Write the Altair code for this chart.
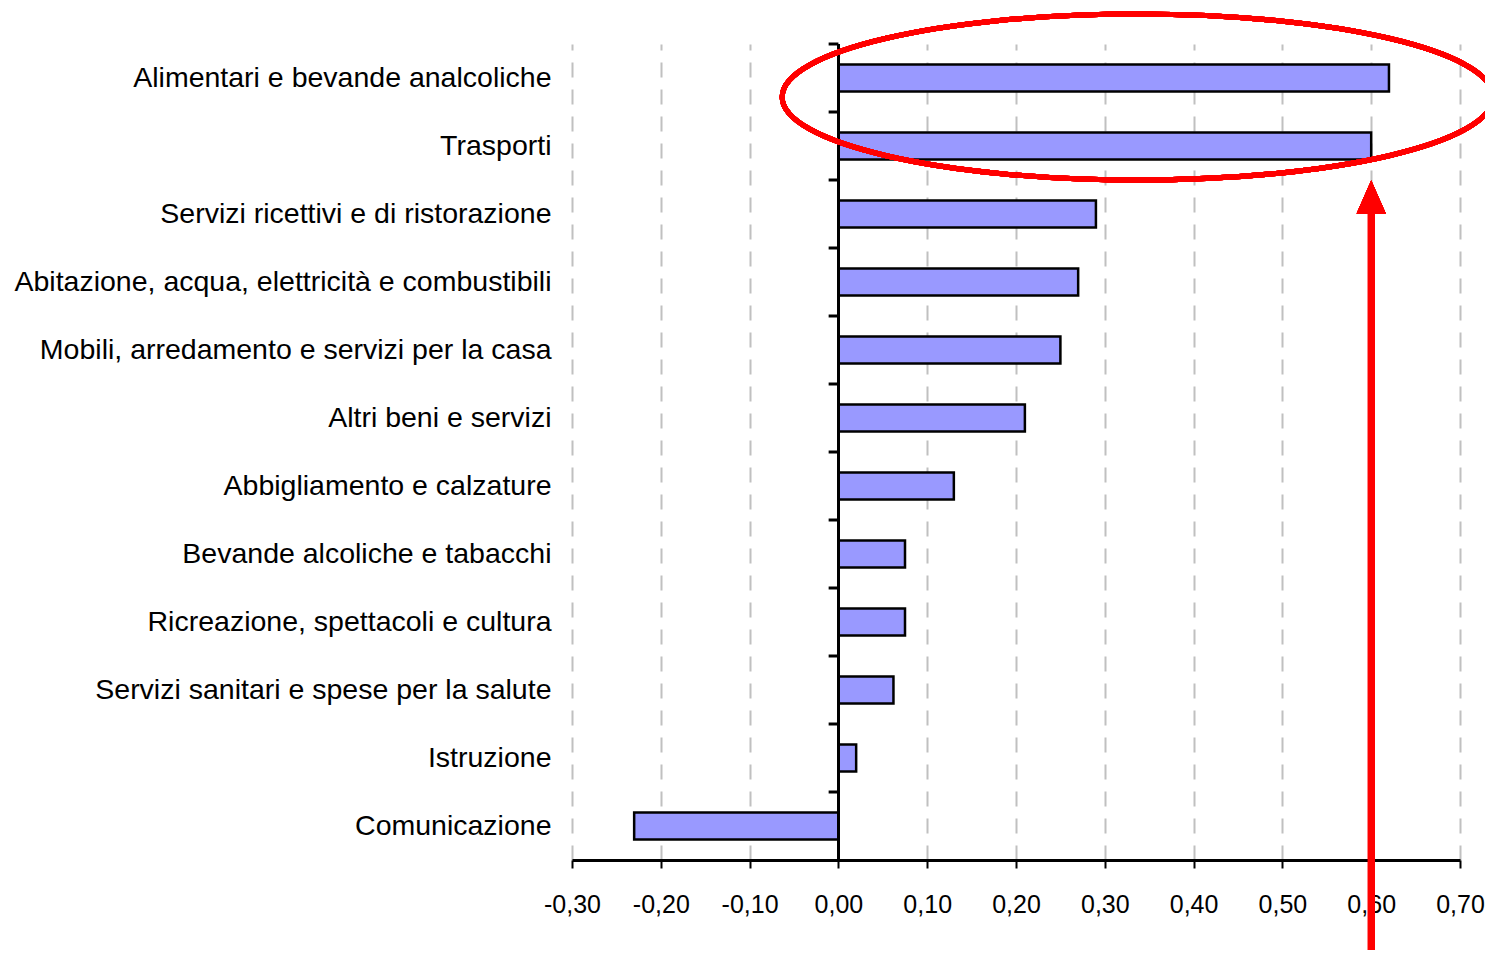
import altair as alt
import pandas as pd

categories = [
    "Alimentari e bevande analcoliche",
    "Trasporti",
    "Servizi ricettivi e di ristorazione",
    "Abitazione, acqua, elettricità e combustibili",
    "Mobili, arredamento e servizi per la casa",
    "Altri beni e servizi",
    "Abbigliamento e calzature",
    "Bevande alcoliche e tabacchi",
    "Ricreazione, spettacoli e cultura",
    "Servizi sanitari e spese per la salute",
    "Istruzione",
    "Comunicazione",
]
values = [0.62, 0.60, 0.29, 0.27, 0.25, 0.21, 0.13, 0.075, 0.075, 0.062, 0.02, -0.23]
x_ticks = [-0.30, -0.20, -0.10, 0.00, 0.10, 0.20, 0.30, 0.40, 0.50, 0.60, 0.70]

df = pd.DataFrame({"categoria": categories, "valore": values})

W, H = 888, 816
BAND = H / len(categories)
x_scale = alt.Scale(domain=[-0.30, 0.70], nice=False, zero=False)
y_sort = categories

y_axis = alt.Axis(
    title=None,
    domain=False,
    ticks=False,
    labelFont="Liberation Sans",
    labelFontSize=28.5,
    labelColor="black",
    labelPadding=21,
    labelLimit=1000,
)

base = alt.Chart(df)

bars = base.mark_bar(size=27, fill="#9999FF", stroke="black", strokeWidth=2.5).encode(
    x=alt.X(
        "valore:Q",
        scale=x_scale,
        axis=alt.Axis(
            values=x_ticks,
            title=None,
            labelExpr="(datum.value < 0 ? '-' : '') + replace(format(abs(datum.value), '.2f'), '.', ',')",
            labelFont="Liberation Sans",
            labelFontSize=25,
            labelColor="black",
            labelFlush=False,
            labelOverlap=False,
            labelPadding=24,
            domainColor="black",
            domainWidth=3,
            tickColor="black",
            tickWidth=2,
            tickSize=8,
            grid=True,
            gridColor="#C0C0C0",
            gridWidth=2,
            gridDash=[15, 12],
        ),
    ),
    y=alt.Y(
        "categoria:N",
        sort=y_sort,
        scale=alt.Scale(paddingInner=0, paddingOuter=0),
        axis=y_axis,
    ),
)

zero_line = base.mark_rule(color="black", strokeWidth=2.5).encode(
    x=alt.datum(0, scale=x_scale)
)

zero_ticks = base.mark_rule(color="black", strokeWidth=3, yOffset=-BAND / 2).encode(
    x=alt.datum(-0.011),
    x2=alt.datum(0),
    y=alt.Y("categoria:N", sort=y_sort, axis=y_axis),
)

ellipse_path = "M-1,0A1,0.2335,0,1,1,1,0A1,0.2335,0,1,1,-1,0Z"
ellipse = base.mark_point(
    shape=ellipse_path, filled=False, stroke="#FF0000", strokeWidth=5,
    size=711 * 711, opacity=1, yOffset=19,
).encode(
    x=alt.datum(0.337),
    y=alt.datum(categories[0]),
)

arrow_shaft = base.mark_rule(color="#FF0000", strokeWidth=6.5, strokeCap="butt").encode(
    x=alt.datum(0.60),
    y=alt.datum(categories[2]),
    y2=alt.value(H + 90),
)

arrow_head = base.mark_point(
    shape="M0,-1L0.88,1L-0.88,1Z", filled=True, fill="#FF0000", stroke=None,
    size=33 * 33, opacity=1, yOffset=-17,
).encode(
    x=alt.datum(0.60),
    y=alt.datum(categories[2]),
)

chart = (
    alt.layer(bars, zero_line, zero_ticks, ellipse, arrow_shaft, arrow_head)
    .properties(
        width=W,
        height=H,
        autosize=alt.AutoSizeParams(type="none"),
        padding={"left": 564, "top": 36, "right": 25, "bottom": 92},
        background="white",
    )
    .configure_view(strokeWidth=0)
)

chart.save("out.html", embed_options={"renderer": "svg", "actions": False})
